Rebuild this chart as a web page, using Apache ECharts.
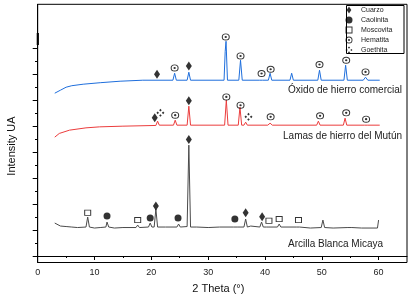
<!DOCTYPE html>
<html>
<head>
<meta charset="utf-8">
<script src="https://cdn.jsdelivr.net/npm/echarts@6/dist/echarts.min.js"></script>
<style>
  html, body { margin: 0; padding: 0; background: #fff; }
  #chart { width: 418px; height: 302px; }
</style>
</head>
<body>
<div id="chart"></div>
<script>
// 2 Theta (deg), intensity in arbitrary units (patterns are stacked)
const xTicks = [0, 10, 20, 30, 40, 50, 60];
const xMinorTicks = [5, 15, 25, 35, 45, 55];
const yTicks = [0, 26, 52, 78, 104, 130, 156, 182, 208];
const yMinorTicks = [13, 39, 65, 91, 117, 143, 169, 195];

const oxidoComercial = [
  [3, 163], [4, 166], [5, 169], [6, 170.5], [8, 172], [11, 173.5], [14.5, 175], [18.5, 176],
  [23.8, 176], [24.1, 183], [24.4, 176], [26.3, 176], [26.6, 184], [26.9, 176],
  [32.8, 176], [33.0, 205], [33.15, 215], [33.4, 176], [35.4, 176], [35.7, 196], [36.0, 176],
  [39.0, 176], [39.3, 178], [39.6, 176], [40.6, 176], [40.9, 183], [41.2, 176],
  [44.4, 176], [44.7, 183], [45.0, 176], [49.3, 176], [49.6, 186], [49.9, 176],
  [53.9, 176], [54.2, 191], [54.5, 176], [57.3, 176], [57.7, 179], [58.1, 176], [60.2, 176]
];

const lamasMutun = [
  [3, 119], [3.8, 122.7], [5.6, 126], [8.5, 128.3], [10.9, 129.3], [15, 130], [20.8, 130.7],
  [21.1, 135], [21.4, 131], [23.9, 131], [24.2, 136], [24.5, 131], [26.3, 131], [26.6, 150], [26.9, 131],
  [32.9, 131], [33.2, 156], [33.5, 131], [35.3, 131], [35.6, 149], [35.9, 131], [36.3, 131], [36.6, 134], [36.9, 131],
  [40.5, 131], [40.9, 133], [41.3, 131], [49.1, 131], [49.4, 135], [49.7, 131],
  [53.8, 131], [54.1, 138], [54.4, 131], [57.5, 131], [57.8, 132], [58.1, 131], [60.2, 131]
];

const arcillaMicaya = [
  [3, 33], [4, 30], [5, 29.5], [6, 29], [7, 28.5], [8.5, 29], [8.8, 39], [9.1, 29], [10, 28], [11, 28.5],
  [12, 29], [12.2, 34], [12.5, 29], [13.5, 28], [15, 28.5], [17.3, 28.5], [17.6, 31], [17.9, 28.5],
  [19.5, 29], [19.8, 33], [20.1, 29], [20.5, 29], [20.8, 47], [21.1, 29], [22.5, 29],
  [24.5, 29], [24.8, 32], [25.1, 29], [26.3, 29.5], [26.6, 111], [26.9, 29], [28, 29], [30, 28.5], [32, 29],
  [34.5, 29], [34.8, 31], [35.1, 29], [36.3, 29], [36.6, 37], [36.9, 29], [37.5, 30],
  [39.1, 29], [39.4, 34], [39.7, 29], [40.3, 29], [40.5, 31], [40.7, 29], [42.2, 29], [42.5, 32], [42.8, 29],
  [45.5, 29], [45.8, 31], [46.1, 29], [48, 28], [49.9, 28.5], [50.2, 36], [50.5, 28.5], [52, 28],
  [54.6, 28.5], [54.9, 30], [55.3, 28.5], [57, 28], [59.8, 28], [60, 36]
];

// phase markers
const cuarzo = [[21.0, 182], [26.6, 190.3], [20.6, 138.3], [26.6, 155.5],
  [20.8, 50], [26.6, 116.7], [36.6, 43.3], [39.5, 39.3]];
const caolinita = [[12.2, 40], [19.8, 38], [24.7, 38], [34.7, 37]];
const moscovita = [[8.8, 43.3], [17.6, 36], [40.7, 35.3], [42.5, 37], [45.9, 36]];
const hematita = [[24.1, 188.3], [33.1, 219.3], [35.7, 200.3], [39.4, 182.7], [41.0, 187],
  [49.6, 191.7], [54.3, 196], [57.7, 184.3],
  [24.2, 141], [33.2, 159.3], [35.7, 151], [41.0, 139.3], [49.7, 140.3], [54.3, 143.3], [57.8, 137]];
const goethita = [[21.6, 143.3], [37.1, 139.3]];

const cuarzoIcon = 'path://M3,0L6,4.5L3,9L0,4.5Z';
const caolinitaIcon = 'path://M5,0A5,5 0 1 1 5,10A5,5 0 1 1 5,0Z';
const moscovitaIcon = 'path://M0,0H10V10H0Z M1.4,1.4V8.6H8.6V1.4Z';
const hematitaIcon = 'path://M5,0A5,5 0 1 1 5,10A5,5 0 1 1 5,0Z M5,1.3A3.7,3.7 0 1 0 5,8.7A3.7,3.7 0 1 0 5,1.3Z M5,3.5A1.5,1.5 0 1 1 5,6.5A1.5,1.5 0 1 1 5,3.5Z';
const goethitaIcon = 'path://M5,0L6.6,1.6L5,3.2L3.4,1.6Z M8.4,3.4L10,5L8.4,6.6L6.8,5Z M5,6.8L6.6,8.4L5,10L3.4,8.4Z M1.6,3.4L3.2,5L1.6,6.6L0,5Z';

const chart = echarts.init(document.getElementById('chart'));

function lineSeries(name, data, color) {
  return {
    name: name, type: 'line', data: data, symbol: 'none', silent: true,
    lineStyle: { color: color, width: 1 }, z: 2
  };
}

function markerSeries(name, data, symbol, size) {
  return {
    name: name, type: 'scatter', data: data, symbol: symbol, symbolSize: size,
    symbolKeepAspect: false,
    itemStyle: { color: '#000', borderWidth: 0 },
    z: 5
  };
}

const font = 'Liberation Sans, Arial, sans-serif';

chart.setOption({
  animation: false,
  grid: { left: 37.7, right: 11, top: 4.3, bottom: 39.5, show: true, borderColor: '#000', borderWidth: 1 },
  xAxis: [{
    type: 'value', min: 0, max: 65,
    name: '2 Theta (°)', nameLocation: 'middle', nameGap: 21,
    nameTextStyle: { fontFamily: font, fontSize: 11, color: '#111', padding: [0, 8, 0, 0] },
    axisLine: { lineStyle: { color: '#000', width: 1 } },
    axisTick: { customValues: xTicks, length: 4, lineStyle: { color: '#000' } },
    axisLabel: { customValues: xTicks, fontFamily: font, fontSize: 9, color: '#222', margin: 6 },
    splitLine: { show: false }
  }, {
    type: 'value', min: 0, max: 65, position: 'bottom',
    axisLine: { show: false },
    axisTick: { customValues: xMinorTicks, length: 2, lineStyle: { color: '#000' } },
    axisLabel: { show: false }, splitLine: { show: false }
  }],
  yAxis: [{
    type: 'value', min: -6.5, max: 252,
    axisLine: { show: true, lineStyle: { color: '#000', width: 1 } },
    axisTick: { customValues: yTicks, length: 5, lineStyle: { color: '#000' } },
    axisLabel: { show: false },
    splitLine: { show: false }
  }, {
    type: 'value', min: -6.5, max: 252, position: 'left',
    axisLine: { show: false },
    axisTick: { customValues: yMinorTicks, length: 2.7, lineStyle: { color: '#000' } },
    axisLabel: { show: false }, splitLine: { show: false }
  }],
  legend: {
    orient: 'vertical', left: 345.5, top: 5, padding: 0,
    itemWidth: 14, itemHeight: 7, itemGap: 0, symbolKeepAspect: true,
    data: ['Cuarzo', 'Caolinita', 'Moscovita', 'Hematita', 'Goethita'],
    textStyle: { fontFamily: font, fontSize: 7, color: '#222', lineHeight: 10 }
  },
  graphic: [
    { type: 'rect', shape: { x: 346.5, y: 5.5, width: 57.5, height: 48 },
      style: { fill: null, stroke: '#000', lineWidth: 1 }, z: 1 },
    { type: 'rect', shape: { x: 36.7, y: 33, width: 2.2, height: 12 }, style: { fill: '#000' } },
    { type: 'text', x: 11.5, y: 146, rotation: Math.PI / 2,
      style: { text: 'Intensity UA', fontFamily: font, fontSize: 11, fill: '#111', align: 'center', verticalAlign: 'middle' } },
    { type: 'text', x: 402, y: 90,
      style: { text: 'Óxido de hierro comercial', fontFamily: font, fontSize: 10, fill: '#222', align: 'right', verticalAlign: 'middle' } },
    { type: 'text', x: 402, y: 136,
      style: { text: 'Lamas de hierro del Mutún', fontFamily: font, fontSize: 10, fill: '#222', align: 'right', verticalAlign: 'middle' } },
    { type: 'text', x: 383, y: 244,
      style: { text: 'Arcilla Blanca Micaya', fontFamily: font, fontSize: 10, fill: '#222', align: 'right', verticalAlign: 'middle' } }
  ],
  series: [
    lineSeries('Óxido de hierro comercial', oxidoComercial, '#1e6edc'),
    lineSeries('Lamas de hierro del Mutún', lamasMutun, '#eb3c3c'),
    lineSeries('Arcilla Blanca Micaya', arcillaMicaya, '#4a4a4a'),
    markerSeries('Cuarzo', cuarzo, cuarzoIcon, [6, 9]),
    markerSeries('Caolinita', caolinita, caolinitaIcon, 7),
    markerSeries('Moscovita', moscovita, moscovitaIcon, [7, 6]),
    markerSeries('Hematita', hematita, hematitaIcon, [8, 7]),
    markerSeries('Goethita', goethita, goethitaIcon, 8)
  ]
});
</script>
</body>
</html>
